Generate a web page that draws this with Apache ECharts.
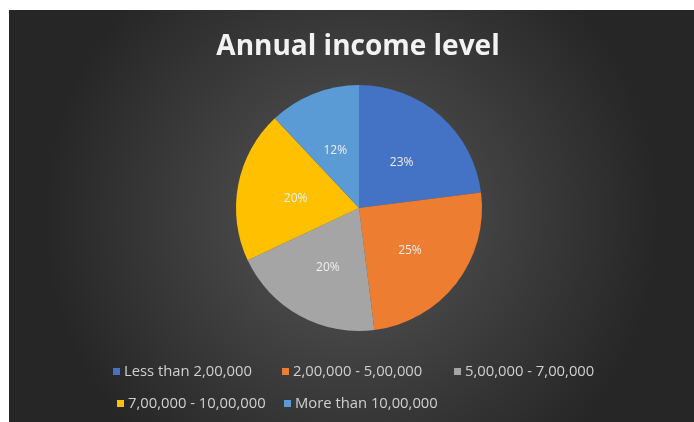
<!DOCTYPE html>
<html>
<head>
<meta charset="utf-8">
<script src="https://cdn.jsdelivr.net/npm/echarts@6/dist/echarts.min.js"></script>
<style>
html,body{margin:0;padding:0;background:#ffffff;}
#chart{width:694px;height:422px;}
</style>
</head>
<body>
<div id="chart"></div>
<script>
const titleText = "Annual income level";
const categories = ["Less than 2,00,000", "2,00,000 - 5,00,000", "5,00,000 - 7,00,000", "7,00,000 - 10,00,000", "More than 10,00,000"];
const values = [23, 25, 20, 20, 12];
const colors = ["#4472C4", "#ED7D31", "#A5A5A5", "#FFC000", "#5B9BD5"];

const legendPos = [
  {left: 108, top: 359},
  {left: 277, top: 359},
  {left: 449, top: 359},
  {left: 112, top: 391},
  {left: 279, top: 391}
];

const chart = echarts.init(document.getElementById('chart'));
const legends = categories.map((c, i) => ({
  data: [c],
  left: legendPos[i].left,
  top: legendPos[i].top,
  orient: 'horizontal',
  icon: 'rect',
  itemWidth: 7,
  itemHeight: 7,
  itemGap: 4,
  selectedMode: false,
  textStyle: {color: '#d0d0d0', fontSize: 14.8, fontFamily: 'Open Sans', padding: [0, 0, 0, -1]}
}));

chart.setOption({
  backgroundColor: '#ffffff',
  graphic: [{
    type: 'rect',
    left: 9, top: 10,
    shape: {width: 685, height: 412},
    style: {
      fill: {
        type: 'radial', x: 0.5, y: 0.5, r: 0.75,
        colorStops: [{offset: 0, color: '#575757'}, {offset: 1, color: '#262626'}]
      }
    },
    z: -10
  }],
  title: {
    text: titleText,
    left: 353, top: 28, textAlign: 'center',
    textStyle: {color: '#f2f2f2', fontSize: 28, fontWeight: 'bold', fontFamily: 'Open Sans'}
  },
  color: colors,
  legend: legends,
  series: [{
    type: 'pie',
    center: [359, 208],
    radius: 123,
    startAngle: 90,
    clockwise: true,
    animation: false,
    data: categories.map((c, i) => ({name: c, value: values[i]})),
    label: {
      show: true,
      position: 'inside',
      formatter: '{c}%',
      color: '#eeeeee',
      fontSize: 12,
      fontFamily: 'Open Sans',
      offset: [0, 3]
    },
    labelLine: {show: false},
    itemStyle: {borderWidth: 0}
  }]
});
</script>
</body>
</html>
